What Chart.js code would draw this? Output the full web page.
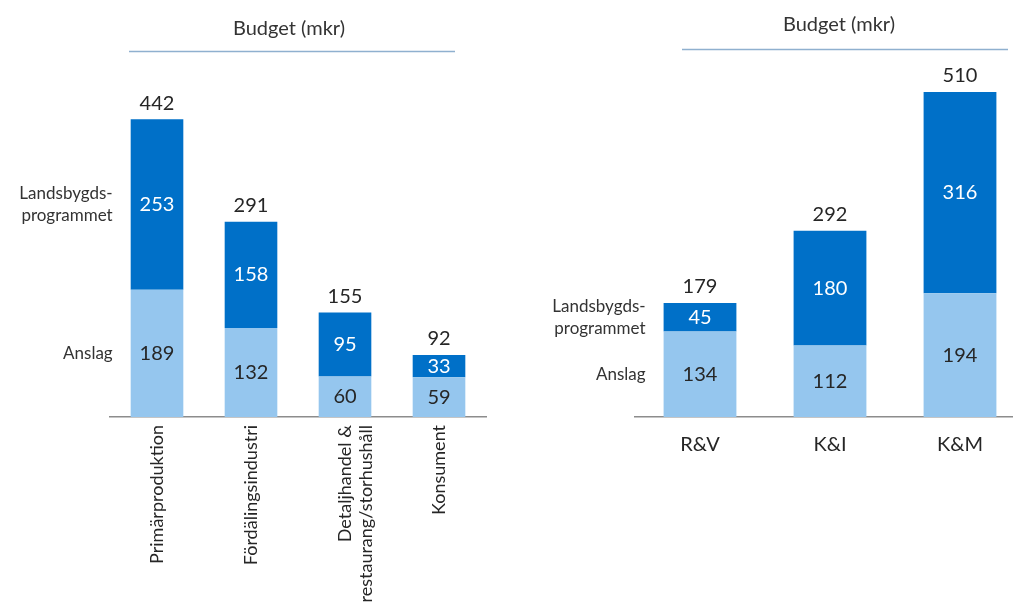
<!DOCTYPE html>
<html>
<head>
<meta charset="utf-8">
<script src="https://cdn.jsdelivr.net/npm/chart.js@4"></script>
<style>
  html, body { margin: 0; padding: 0; background: #fff; overflow: hidden; }
  #wrapLeft  { position: absolute; left: 0;     top: 0; width: 500px; height: 606px; }
  #wrapRight { position: absolute; left: 520px; top: 0; width: 520px; height: 606px; }
</style>
</head>
<body>
<div id="wrapLeft"><canvas id="chartLeft"></canvas></div>
<div id="wrapRight"><canvas id="chartRight"></canvas></div>
<script>
// data
var leftCategories = ['Primärproduktion', 'Fördälingsindustri', ['Detaljhandel &', 'restaurang/storhushåll'], 'Konsument'];
var leftAnslag     = [189, 132, 60, 59];
var leftLandsbygd  = [253, 158, 95, 33];
var leftTotals     = [442, 291, 155, 92];

var rightCategories = ['R&V', 'K&I', 'K&M'];
var rightAnslag     = [134, 112, 194];
var rightLandsbygd  = [45, 180, 316];
var rightTotals     = [179, 292, 510];

var nameAnslag    = 'Anslag';
var nameLandsbygd = ['Landsbygds-', 'programmet'];
var chartTitle    = 'Budget (mkr)';

var FONT = 'Lato, "Open Sans", sans-serif';
var DARK = '#0070C8';
var LIGHT = '#95C6EE';

// labels in the bars, totals on top, row names and title
var barText = {
  id: 'barText',
  afterDraw: function(chart, args, opts) {
    var ctx = chart.ctx;
    var sets = chart.data.datasets;
    ctx.save();

    // title + rule
    ctx.font = opts.titleFont;
    ctx.fillStyle = '#333';
    ctx.textAlign = 'center';
    ctx.textBaseline = 'middle';
    ctx.fillText(chartTitle, opts.titleX, opts.titleY);
    ctx.strokeStyle = '#8fb0cf';
    ctx.lineWidth = 1.5;
    ctx.beginPath();
    ctx.moveTo(opts.ruleX1, opts.ruleY);
    ctx.lineTo(opts.ruleX2, opts.ruleY);
    ctx.stroke();

    // segment values
    ctx.font = opts.valueFont;
    sets.forEach(function(ds, i) {
      chart.getDatasetMeta(i).data.forEach(function(bar, j) {
        var p = bar.getProps(['x', 'y', 'base'], true);
        ctx.fillStyle = i === 0 ? '#262626' : '#ffffff';
        ctx.fillText(ds.data[j], p.x, (p.y + p.base) / 2);
      });
    });

    // totals
    ctx.fillStyle = '#262626';
    chart.getDatasetMeta(sets.length - 1).data.forEach(function(bar, j) {
      ctx.fillText(opts.totals[j], bar.x, bar.y - 16);
    });

    // row names beside first bar
    ctx.font = opts.nameFont;
    ctx.textAlign = 'right';
    ctx.fillStyle = '#333';
    sets.forEach(function(ds, i) {
      var p = chart.getDatasetMeta(i).data[0].getProps(['x', 'y', 'base', 'width'], true);
      var lines = [].concat(ds.rowName);
      var mid = (p.y + p.base) / 2;
      var lh = 22;
      lines.forEach(function(t, k) {
        ctx.fillText(t, p.x - p.width / 2 - 18, mid + (k - (lines.length - 1) / 2) * lh);
      });
    });
    ctx.restore();
  }
};

function makeChart(id, cats, anslag, lands, o) {
  return new Chart(document.getElementById(id), {
    type: 'bar',
    data: {
      labels: cats,
      datasets: [
        { label: 'Anslag', rowName: nameAnslag, data: anslag, backgroundColor: LIGHT,
          barPercentage: 0.56, categoryPercentage: 1 },
        { label: 'Landsbygdsprogrammet', rowName: nameLandsbygd, data: lands, backgroundColor: DARK,
          barPercentage: 0.56, categoryPercentage: 1 }
      ]
    },
    options: {
      responsive: true,
      maintainAspectRatio: false,
      animation: false,
      layout: { padding: { left: o.padLeft, right: o.padRight, top: 60, bottom: 0 } },
      plugins: {
        legend: { display: false },
        tooltip: { enabled: false },
        barText: o.text
      },
      scales: {
        x: {
          stacked: true,
          grid: { display: false },
          border: { display: true, color: '#8c8c8c', width: 1.5 },
          ticks: {
            color: '#262626',
            font: { family: FONT, size: o.tickSize },
            padding: o.tickPad,
            minRotation: o.rot, maxRotation: o.rot,
            autoSkip: false
          },
          afterFit: function(scale) { scale.height = 606 - 417; }
        },
        y: { stacked: true, display: false, min: 0, max: o.yMax }
      }
    },
    plugins: [barText]
  });
}

makeChart('chartLeft', leftCategories, leftAnslag, leftLandsbygd, {
  padLeft: 110, padRight: 14, tickSize: 18, tickPad: 0, rot: 90, yMax: 530,
  text: { titleFont: '20px ' + FONT, titleX: 289, titleY: 29, ruleX1: 129, ruleX2: 455, ruleY: 51.5,
          valueFont: '20px ' + FONT, nameFont: '17px ' + FONT, totals: leftTotals }
});

makeChart('chartRight', rightCategories, rightAnslag, rightLandsbygd, {
  padLeft: 115, padRight: 15, tickSize: 20, tickPad: 8, rot: 0, yMax: 560,
  text: { titleFont: '20px ' + FONT, titleX: 319, titleY: 25, ruleX1: 162, ruleX2: 488, ruleY: 49.5,
          valueFont: '20px ' + FONT, nameFont: '17px ' + FONT, totals: rightTotals }
});
</script>
</body>
</html>
